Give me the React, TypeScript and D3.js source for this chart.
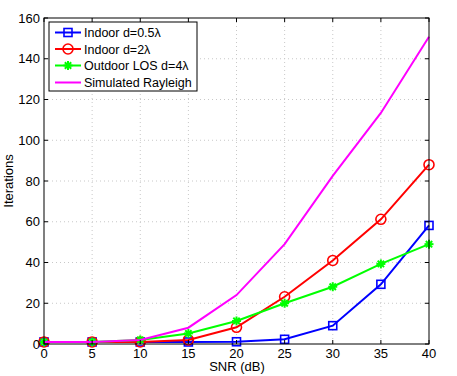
import React from "react";
import * as d3 from "d3";

const snr = [0, 5, 10, 15, 20, 25, 30, 35, 40];
const indoor05 = [1, 1, 1, 1, 1.1, 2.3, 9, 29.3, 58.2];
const indoor2 = [1, 1, 1, 2, 8.2, 23.2, 41, 61.2, 88];
const outdoor4 = [1, 1, 2, 5.2, 11.3, 20, 28.1, 39.3, 49];
const rayleigh = [1, 1, 2, 8, 24, 49, 82.5, 113.4, 150.8];
const xTicks = [0, 5, 10, 15, 20, 25, 30, 35, 40];
const yTicks = [0, 20, 40, 60, 80, 100, 120, 140, 160];
const legendLabels = ["Indoor d=0.5λ", "Indoor d=2λ", "Outdoor LOS d=4λ", "Simulated Rayleigh"];

const W = 457, H = 376;
const L = 44, R = 429, T = 18, B = 344;
const font = "Liberation Sans, Arial, sans-serif";

export default function App() {
  const x = d3.scaleLinear().domain([0, 40]).range([L, R]);
  const y = d3.scaleLinear().domain([0, 160]).range([B, T]);
  const line = d3.line<number>().x((_, i) => x(snr[i])).y((d) => y(d));

  const series = [
    { data: indoor05, color: "#0000ff", marker: "square" },
    { data: indoor2, color: "#ff0000", marker: "circle" },
    { data: outdoor4, color: "#00ff00", marker: "star" },
    { data: rayleigh, color: "#ff00ff", marker: "none" },
  ];

  const drawMarker = (m: string, cx: number, cy: number, color: string, key: string) => {
    if (m === "square")
      return <rect key={key} x={cx - 4} y={cy - 4} width={8} height={8} fill="none" stroke={color} strokeWidth={1.6} />;
    if (m === "circle")
      return <circle key={key} cx={cx} cy={cy} r={5} fill="none" stroke={color} strokeWidth={1.6} />;
    if (m === "star") {
      const lines = [0, 45, 90, 135].map((a) => {
        const r = 4.5, rad = (a * Math.PI) / 180;
        return (
          <line key={a} x1={cx - r * Math.cos(rad)} y1={cy - r * Math.sin(rad)} x2={cx + r * Math.cos(rad)} y2={cy + r * Math.sin(rad)} stroke={color} strokeWidth={2} />
        );
      });
      return <g key={key}>{lines}<circle cx={cx} cy={cy} r={2.5} fill={color} /></g>;
    }
    return null;
  };

  const legX = 49, legY = 22, legW = 148, legH = 69;
  const rowY = [32.5, 49, 65.5, 82.5];

  return (
    <svg width={W} height={H} style={{ position: "absolute", left: 0, top: 0, background: "#fff" }}>
      <rect x={0} y={0} width={W} height={H} fill="#fff" />
      {/* grid */}
      {xTicks.slice(1, -1).map((t) => (
        <line key={"gx" + t} x1={x(t)} x2={x(t)} y1={T} y2={B} stroke="#c8c8c8" strokeDasharray="1,3" strokeWidth={1} />
      ))}
      {yTicks.slice(1, -1).map((t) => (
        <line key={"gy" + t} x1={L} x2={R} y1={y(t)} y2={y(t)} stroke="#c8c8c8" strokeDasharray="1,3" strokeWidth={1} />
      ))}
      {/* series */}
      {series.map((s, i) => (
        <g key={i}>
          <path d={line(s.data) || ""} fill="none" stroke={s.color} strokeWidth={2} />
          {s.data.map((v, j) => drawMarker(s.marker, x(snr[j]), y(v), s.color, i + "-" + j))}
        </g>
      ))}
      {/* axes box */}
      <rect x={L} y={T} width={R - L} height={B - T} fill="none" stroke="#000" strokeWidth={1} />
      {xTicks.map((t) => (
        <g key={"tx" + t}>
          <line x1={x(t)} x2={x(t)} y1={B} y2={B - 4} stroke="#000" />
          <line x1={x(t)} x2={x(t)} y1={T} y2={T + 4} stroke="#000" />
          <text x={x(t)} y={B + 13.5} textAnchor="middle" fontFamily={font} fontSize={13}>{t}</text>
        </g>
      ))}
      {yTicks.map((t) => (
        <g key={"ty" + t}>
          <line x1={L} x2={L + 4} y1={y(t)} y2={y(t)} stroke="#000" />
          <line x1={R} x2={R - 4} y1={y(t)} y2={y(t)} stroke="#000" />
          <text x={L - 4} y={y(t) + 4.5} textAnchor="end" fontFamily={font} fontSize={13}>{t}</text>
        </g>
      ))}
      <text x={237} y={371} textAnchor="middle" fontFamily={font} fontSize={13}>SNR (dB)</text>
      <text transform={`translate(13,${(T + B) / 2}) rotate(-90)`} textAnchor="middle" fontFamily={font} fontSize={13}>Iterations</text>
      {/* legend */}
      <rect x={legX} y={legY} width={legW} height={legH} fill="#fff" stroke="#000" strokeWidth={1} />
      {series.map((s, i) => (
        <g key={"leg" + i}>
          <line x1={55} x2={81} y1={rowY[i]} y2={rowY[i]} stroke={s.color} strokeWidth={2} />
          {drawMarker(s.marker, 68, rowY[i], s.color, "lm" + i)}
          <text x={84} y={rowY[i] + 4.5} fontFamily={font} fontSize={12.5}>{legendLabels[i]}</text>
        </g>
      ))}
    </svg>
  );
}
